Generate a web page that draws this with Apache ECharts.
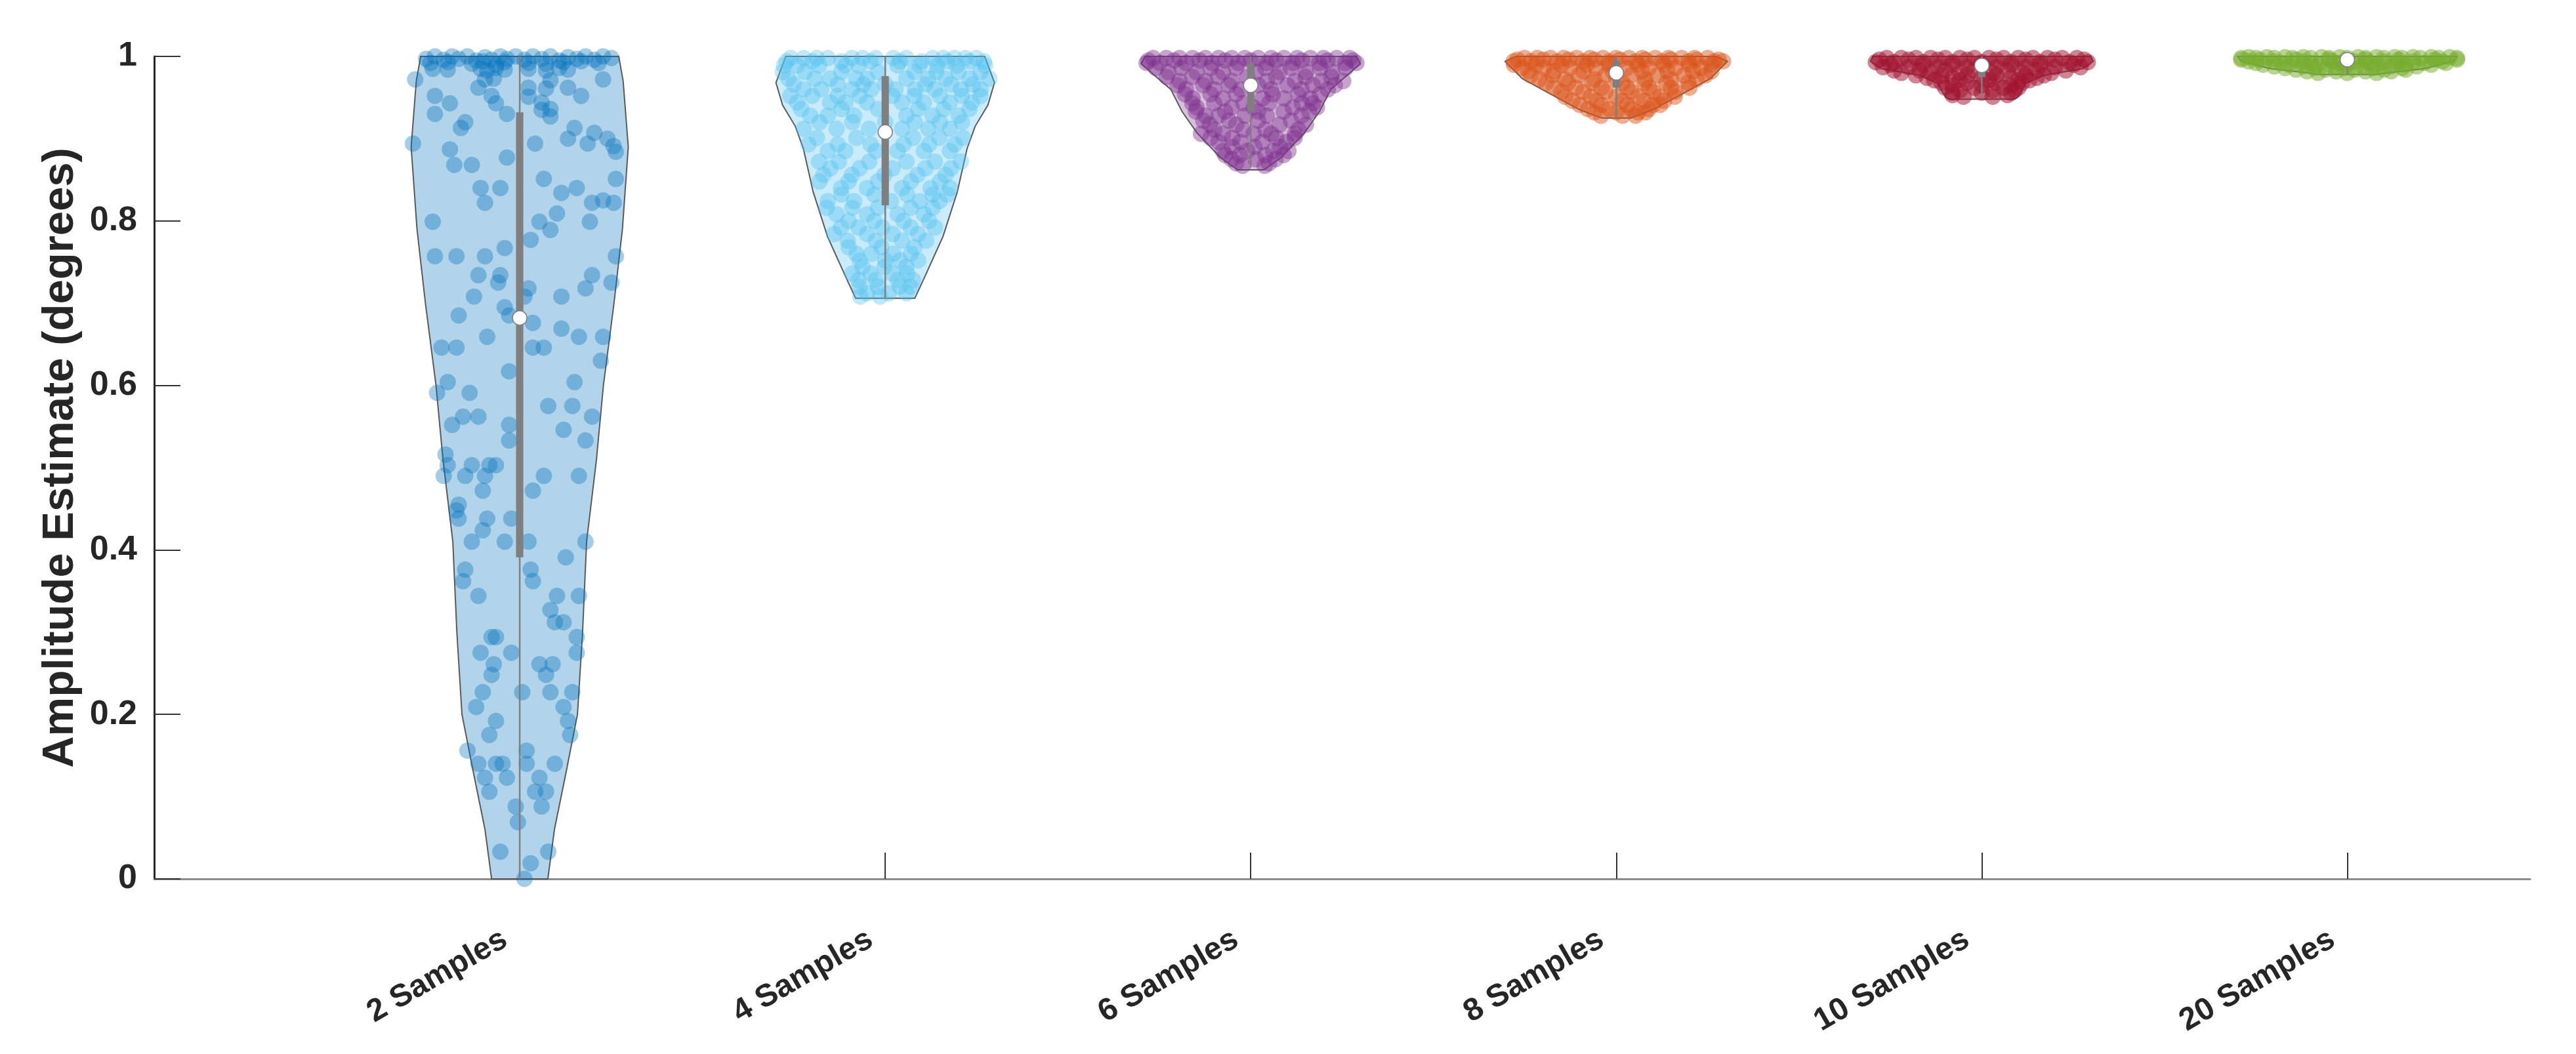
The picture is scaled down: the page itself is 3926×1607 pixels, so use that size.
<!DOCTYPE html>
<html>
<head>
<meta charset="utf-8">
<script src="https://cdn.jsdelivr.net/npm/echarts@6/dist/echarts.min.js"></script>
<style>html,body{margin:0;padding:0;background:#fff;}#c{width:3926px;height:1607px;}</style>
</head>
<body>
<div id="c"></div>
<script>
const categories = ['2 Samples','4 Samples','6 Samples','8 Samples','10 Samples','20 Samples'];
const colors = ['#0072BD','#4DBEEE','#7E2F8E','#D95319','#A2142F','#77AC30'];
const yTicks = [0,0.2,0.4,0.6,0.8,1];

// summary stats per group
const whiskerLow = [0, 0.706, 0.865, 0.925, 0.950, 0.978];
const q1 = [0.391, 0.819, 0.933, 0.962, 0.975, 0.990];
const medians = [0.682, 0.908, 0.965, 0.980, 0.989, 0.996];
const q3 = [0.932, 0.976, 0.990, 0.995, 0.997, 0.999];
const whiskerHigh = [1, 1, 1, 1, 1, 1];

// violin outlines: [value, half width in category units]
const shape1 = [[0,0.077],[0.06,0.095],[0.13,0.127],[0.20,0.158],[0.30,0.172],[0.41,0.183],[0.51,0.21],[0.60,0.229],[0.70,0.258],[0.79,0.281],[0.89,0.297],[0.97,0.283],[1.0,0.271]];
const shape2 = [[0.706,0.081],[0.728,0.104],[0.781,0.158],[0.835,0.197],[0.888,0.224],[0.915,0.246],[0.941,0.281],[0.968,0.299],[1.0,0.272]];
const shape3 = [[0.862,0.036],[0.877,0.083],[0.907,0.147],[0.933,0.188],[0.960,0.219],[0.991,0.30],[1.0,0.289]];
const shape4 = [[0.925,0.04],[0.935,0.099],[0.954,0.179],[0.973,0.257],[0.994,0.304],[1.0,0.274]];
const shape5 = [[0.948,0.09],[0.951,0.10],[0.967,0.12],[0.977,0.17],[0.985,0.275],[0.994,0.305],[1.0,0.298]];
const shape6 = [[0.978,0.08],[0.980,0.11],[0.985,0.21],[0.994,0.29],[1.0,0.30]];

// jittered points: [horizontal offset (category units), value]
const pts1 = [
[-0.256,0.997],[-0.232,1.0],[-0.208,0.996],[-0.185,1.0],[-0.167,0.997],[-0.143,1.0],[-0.119,0.995],[-0.095,0.999],[-0.077,0.996],[-0.053,1.0],[-0.035,0.997],[-0.011,1.0],[0.013,0.996],[0.036,1.0],[0.060,0.997],[0.084,1.0],[0.108,0.995],[0.132,0.999],[0.156,0.997],[0.180,1.0],[0.204,0.996],[0.228,1.0],[0.251,0.998],
[-0.244,0.992],[-0.196,0.993],[-0.131,0.991],[-0.101,0.994],[-0.065,0.990],[-0.041,0.993],[0.024,0.992],[0.072,0.991],[0.120,0.993],[0.168,0.994],[0.216,0.992],
[-0.238,0.985],[-0.197,0.984],[-0.107,0.985],[-0.089,0.983],[-0.065,0.986],[-0.041,0.984],[0.024,0.985],[0.072,0.983],[0.108,0.986],[0.132,0.984],
[-0.286,0.972],[-0.095,0.972],[-0.071,0.973],[0.084,0.971],[0.228,0.972],
[-0.113,0.962],[0.024,0.962],[0.072,0.961],[0.132,0.962],
[-0.232,0.952],[-0.077,0.952],[0.024,0.951],[0.168,0.952],
[-0.191,0.943],[-0.065,0.943],[0.060,0.944],
[0.060,0.935],[0.084,0.936],[-0.232,0.930],[-0.035,0.930],[0.084,0.927],
[-0.149,0.920],[-0.161,0.913],[0.150,0.913],[0.204,0.907],[0.132,0.900],[0.240,0.900],
[-0.292,0.894],[0.042,0.894],[0.186,0.894],[0.257,0.891],[-0.191,0.887],[0.263,0.884],
[-0.035,0.877],[-0.179,0.868],[-0.131,0.868],[0.066,0.851],[0.263,0.851],
[-0.107,0.840],[-0.053,0.840],[0.156,0.840],[0.114,0.834],[0.228,0.825],
[-0.095,0.822],[0.198,0.822],[0.257,0.822],[0.102,0.809],
[-0.238,0.799],[0.054,0.799],[0.192,0.799],[0.084,0.789],[0.030,0.777],[-0.041,0.767],
[-0.232,0.757],[-0.173,0.757],[-0.095,0.757],[0.263,0.757],
[-0.113,0.734],[-0.053,0.734],[0.198,0.734],[-0.059,0.725],[0.251,0.725],
[0.024,0.718],[0.180,0.718],[-0.125,0.708],[0.114,0.708],[0.013,0.708],
[-0.041,0.695],[-0.167,0.685],[-0.029,0.685],[0.036,0.676],[0.114,0.669],
[-0.089,0.659],[0.162,0.659],[0.228,0.659],
[-0.214,0.646],[-0.173,0.646],[0.036,0.646],[0.066,0.646],
[0.222,0.630],[-0.029,0.617],[0.150,0.604],[-0.197,0.604],
[-0.137,0.591],[-0.226,0.591],[0.078,0.575],[0.144,0.575],
[-0.155,0.562],[-0.113,0.562],[0.198,0.562],[-0.185,0.552],[-0.029,0.552],
[0.120,0.546],[0.180,0.533],[-0.029,0.533],[-0.203,0.516],
[-0.197,0.503],[-0.131,0.503],[-0.083,0.503],[-0.065,0.503],
[-0.208,0.490],[-0.149,0.490],[-0.095,0.490],[0.066,0.490],[0.162,0.490],
[-0.101,0.472],[0.036,0.472],[-0.167,0.455],[-0.173,0.448],
[-0.167,0.438],[-0.089,0.438],[-0.023,0.438],[-0.101,0.424],
[-0.131,0.410],[-0.041,0.410],[0.024,0.410],[0.180,0.410],[0.126,0.391],
[-0.149,0.376],[0.030,0.376],[-0.155,0.362],[0.036,0.362],
[-0.113,0.344],[0.102,0.344],[0.162,0.344],[0.084,0.327],[0.096,0.312],[0.120,0.312],
[-0.077,0.294],[-0.065,0.294],[0.156,0.294],[-0.107,0.275],[-0.023,0.275],[0.156,0.275],
[-0.071,0.261],[0.054,0.261],[0.090,0.261],[-0.077,0.248],[0.072,0.248],
[-0.101,0.227],[0.007,0.227],[0.084,0.227],[0.144,0.227],[-0.119,0.209],[0.120,0.209],
[-0.065,0.192],[0.132,0.192],[-0.083,0.175],[0.138,0.175],[-0.143,0.156],[0.019,0.156],
[-0.113,0.140],[-0.065,0.140],[-0.047,0.140],[0.019,0.140],[0.096,0.140],
[-0.095,0.123],[-0.035,0.123],[0.054,0.123],[-0.083,0.106],[0.042,0.106],[0.072,0.106],
[-0.011,0.088],[0.060,0.088],[-0.005,0.069],[-0.053,0.033],[0.078,0.033],[0.030,0.019],[0.013,0.0]
];
const pts2 = [
[-0.259,0.998],[-0.223,0.998],[-0.187,0.998],[-0.157,0.998],[-0.091,0.998],[-0.062,0.998],[-0.026,0.998],[0.022,0.998],[0.058,0.998],[0.130,0.998],[0.159,0.998],[0.189,0.998],[0.219,0.998],[0.249,0.998],
[-0.27,0.994],[-0.20,0.994],[-0.12,0.994],[-0.04,0.994],[0.04,0.994],[0.10,0.994],[0.17,0.994],[0.23,0.994],[0.27,0.994],
[-0.277,0.989],[-0.241,0.989],[-0.181,0.989],[-0.109,0.989],[-0.073,0.989],[0.034,0.989],[0.094,0.989],[0.142,0.989],[0.195,0.989],[0.273,0.989],
[-0.28,0.981],[-0.22,0.981],[-0.12,0.981],[-0.02,0.981],[0.08,0.981],[0.14,0.981],[0.20,0.981],[0.26,0.981],
[-0.265,0.973],[-0.193,0.973],[-0.151,0.973],[-0.079,0.973],[-0.050,0.973],[0.058,0.973],[0.118,0.973],[0.165,0.973],[0.231,0.973],[0.285,0.973],
[-0.25,0.966],[-0.13,0.966],[-0.06,0.966],[0.0,0.966],[0.11,0.966],[0.18,0.966],[0.24,0.966],
[-0.223,0.960],[-0.175,0.960],[-0.091,0.960],[-0.038,0.960],[0.028,0.960],[0.082,0.960],[0.136,0.960],[0.207,0.960],[0.261,0.960],
[-0.26,0.952],[-0.20,0.952],[-0.13,0.952],[-0.07,0.952],[0.02,0.952],[0.08,0.952],[0.15,0.952],[0.21,0.952],[0.26,0.952],
[-0.241,0.944],[-0.151,0.944],[-0.109,0.944],[-0.050,0.944],[0.046,0.944],[0.106,0.944],[0.177,0.944],[0.237,0.944],
[-0.23,0.936],[-0.12,0.936],[-0.02,0.936],[0.09,0.936],[0.16,0.936],[0.23,0.936],
[-0.205,0.928],[-0.157,0.928],[-0.085,0.928],[0.058,0.928],[0.130,0.928],[0.201,0.928],
[-0.18,0.920],[-0.09,0.920],[0.0,0.920],[0.08,0.920],[0.15,0.920],[0.21,0.920],
[-0.223,0.912],[-0.133,0.912],[-0.044,0.912],[0.046,0.912],[0.118,0.912],[0.177,0.912],
[-0.187,0.901],[-0.079,0.901],[0.076,0.901],[0.148,0.901],[0.213,0.901],
[-0.21,0.893],[-0.13,0.893],[-0.04,0.893],[0.05,0.893],[0.12,0.893],[0.19,0.893],
[-0.157,0.885],[-0.109,0.885],[-0.026,0.885],[0.034,0.885],[0.106,0.885],[0.177,0.885],
[-0.181,0.872],[-0.127,0.872],[-0.044,0.872],[0.058,0.872],[0.136,0.872],[0.207,0.872],
[-0.15,0.864],[-0.07,0.864],[0.02,0.864],[0.11,0.864],[0.18,0.864],
[-0.169,0.856],[-0.091,0.856],[-0.002,0.856],[0.088,0.856],[0.165,0.856],
[-0.18,0.848],[-0.10,0.848],[-0.02,0.848],[0.07,0.848],[0.15,0.848],
[-0.121,0.840],[-0.050,0.840],[0.046,0.840],[0.124,0.840],[0.177,0.840],
[-0.12,0.832],[-0.03,0.832],[0.06,0.832],[0.13,0.832],[0.17,0.832],
[-0.157,0.824],[-0.085,0.824],[0.016,0.824],[0.094,0.824],[0.148,0.824],
[-0.16,0.816],[-0.09,0.816],[-0.02,0.816],[0.07,0.816],[0.13,0.816],
[-0.133,0.808],[-0.050,0.808],[0.034,0.808],[0.106,0.808],
[-0.10,0.800],[-0.03,0.800],[0.05,0.800],[0.12,0.800],
[-0.121,0.792],[-0.073,0.792],[-0.008,0.792],[0.070,0.792],[0.136,0.792],
[-0.14,0.784],[-0.05,0.784],[0.02,0.784],[0.09,0.784],
[-0.103,0.776],[-0.026,0.776],[0.046,0.776],[0.112,0.776],
[-0.10,0.768],[-0.01,0.768],[0.08,0.768],
[-0.079,0.760],[-0.038,0.760],[0.022,0.760],[0.070,0.760],
[-0.07,0.752],[0.0,0.752],[0.04,0.752],[0.09,0.752],
[-0.062,0.744],[-0.002,0.744],[0.058,0.744],
[-0.09,0.736],[-0.04,0.736],[0.02,0.736],[0.06,0.736],
[-0.073,0.728],[-0.026,0.728],[0.034,0.728],[0.076,0.728],
[-0.07,0.720],[-0.02,0.720],[0.04,0.720],[0.07,0.720],
[-0.050,0.712],[0.010,0.712],[0.058,0.712],[-0.068,0.708],[-0.014,0.708]
];
const pts3 = [
[-0.267,0.998],[-0.231,0.998],[-0.195,0.998],[-0.159,0.998],[-0.124,0.998],[-0.088,0.998],[-0.052,0.998],[-0.016,0.998],[0.020,0.998],[0.056,0.998],[0.091,0.998],[0.127,0.998],[0.163,0.998],[0.199,0.998],[0.235,0.998],[0.271,0.998],
[-0.28,0.995],[-0.21,0.995],[-0.14,0.995],[-0.07,0.995],[0.0,0.995],[0.07,0.995],[0.14,0.995],[0.21,0.995],[0.28,0.995],
[-0.285,0.992],[-0.249,0.992],[-0.177,0.992],[-0.106,0.992],[-0.034,0.992],[0.044,0.992],[0.115,0.992],[0.187,0.992],[0.259,0.992],[0.289,0.992],
[-0.26,0.986],[-0.19,0.986],[-0.11,0.986],[-0.04,0.986],[0.04,0.986],[0.11,0.986],[0.19,0.986],[0.26,0.986],
[-0.225,0.981],[-0.148,0.981],[-0.076,0.981],[0.014,0.981],[0.079,0.981],[0.151,0.981],[0.223,0.981],
[-0.23,0.975],[-0.16,0.975],[-0.09,0.975],[-0.01,0.975],[0.07,0.975],[0.15,0.975],[0.22,0.975],
[-0.195,0.970],[-0.124,0.970],[-0.052,0.970],[0.044,0.970],[0.121,0.970],[0.193,0.970],[0.253,0.970],
[-0.20,0.965],[-0.13,0.965],[-0.06,0.965],[0.02,0.965],[0.10,0.965],[0.17,0.965],[0.23,0.965],
[-0.177,0.960],[-0.100,0.960],[-0.028,0.960],[0.056,0.960],[0.139,0.960],[0.211,0.960],
[-0.18,0.954],[-0.11,0.954],[-0.04,0.954],[0.06,0.954],[0.13,0.954],[0.19,0.954],
[-0.159,0.949],[-0.076,0.949],[0.032,0.949],[0.091,0.949],[0.163,0.949],
[-0.16,0.943],[-0.10,0.943],[-0.02,0.943],[0.05,0.943],[0.14,0.943],[0.17,0.943],
[-0.148,0.938],[-0.052,0.938],[0.008,0.938],[0.115,0.938],[0.181,0.938],
[-0.15,0.933],[-0.07,0.933],[0.02,0.933],[0.09,0.933],[0.16,0.933],
[-0.124,0.928],[-0.088,0.928],[-0.016,0.928],[0.044,0.928],[0.139,0.928],
[-0.13,0.922],[-0.06,0.922],[0.02,0.922],[0.11,0.922],
[-0.112,0.917],[-0.040,0.917],[0.079,0.917],[0.151,0.917],
[-0.10,0.911],[-0.02,0.911],[0.04,0.911],[0.13,0.911],
[-0.136,0.906],[-0.076,0.906],[0.008,0.906],[0.056,0.906],[0.121,0.906],
[-0.11,0.901],[-0.05,0.901],[0.07,0.901],[0.12,0.901],
[-0.088,0.896],[-0.028,0.896],[0.032,0.896],[0.097,0.896],
[-0.05,0.890],[0.01,0.890],[0.08,0.890],
[-0.076,0.885],[-0.010,0.885],[0.062,0.885],[0.103,0.885],
[-0.07,0.880],[-0.03,0.880],[0.04,0.880],[0.09,0.880],
[-0.052,0.875],[0.014,0.875],[0.068,0.875],
[-0.04,0.870],[0.05,0.870],
[-0.022,0.867],[0.038,0.867]
];
const pts4 = [
[-0.251,0.998],[-0.216,0.998],[-0.180,0.998],[-0.144,0.998],[-0.108,0.998],[-0.072,0.998],[-0.036,0.998],[-0.001,0.998],[0.035,0.998],[0.071,0.998],[0.107,0.998],[0.143,0.998],[0.179,0.998],[0.214,0.998],[0.250,0.998],
[-0.27,0.996],[-0.20,0.996],[-0.13,0.996],[-0.06,0.996],[0.01,0.996],[0.08,0.996],[0.15,0.996],[0.22,0.996],[0.28,0.996],
[-0.281,0.994],[-0.234,0.994],[-0.162,0.994],[-0.090,0.994],[-0.019,0.994],[0.053,0.994],[0.125,0.994],[0.197,0.994],[0.268,0.994],[0.292,0.994],
[-0.28,0.990],[-0.22,0.990],[-0.15,0.990],[-0.08,0.990],[-0.02,0.990],[0.06,0.990],[0.13,0.990],[0.20,0.990],[0.26,0.990],
[-0.257,0.986],[-0.198,0.986],[-0.126,0.986],[-0.054,0.986],[0.029,0.986],[0.089,0.986],[0.161,0.986],[0.232,0.986],
[-0.24,0.982],[-0.17,0.982],[-0.09,0.982],[-0.01,0.982],[0.07,0.982],[0.14,0.982],[0.21,0.982],[0.26,0.982],
[-0.234,0.977],[-0.174,0.977],[-0.102,0.977],[-0.030,0.977],[0.041,0.977],[0.113,0.977],[0.185,0.977],[0.244,0.977],
[-0.21,0.972],[-0.14,0.972],[-0.06,0.972],[0.0,0.972],[0.08,0.972],[0.15,0.972],[0.22,0.972],
[-0.192,0.968],[-0.132,0.968],[-0.066,0.968],[0.017,0.968],[0.077,0.968],[0.137,0.968],[0.197,0.968],
[-0.17,0.962],[-0.11,0.962],[-0.04,0.962],[0.03,0.962],[0.09,0.962],[0.15,0.962],[0.20,0.962],
[-0.150,0.957],[-0.090,0.957],[-0.030,0.957],[0.041,0.957],[0.101,0.957],[0.161,0.957],
[-0.14,0.951],[-0.07,0.951],[0.0,0.951],[0.06,0.951],[0.12,0.951],[0.16,0.951],
[-0.120,0.946],[-0.054,0.946],[0.017,0.946],[0.077,0.946],[0.131,0.946],
[-0.10,0.941],[-0.04,0.941],[0.03,0.941],[0.10,0.941],[0.12,0.941],
[-0.078,0.936],[-0.019,0.936],[0.041,0.936],[0.089,0.936],
[-0.06,0.932],[0.0,0.932],[0.06,0.932],[0.08,0.932],
[-0.042,0.928],[0.017,0.928],[0.053,0.928]
];
const pts5 = [
[-0.26,0.998],[-0.22,0.998],[-0.18,0.998],[-0.14,0.998],[-0.10,0.998],[-0.06,0.998],[-0.02,0.998],[0.02,0.998],[0.06,0.998],[0.10,0.998],[0.14,0.998],[0.18,0.998],[0.22,0.998],[0.26,0.998],
[-0.28,0.996],[-0.20,0.996],[-0.12,0.996],[-0.04,0.996],[0.04,0.996],[0.12,0.996],[0.20,0.996],[0.28,0.996],
[-0.29,0.993],[-0.24,0.993],[-0.16,0.993],[-0.08,0.993],[0.0,0.993],[0.08,0.993],[0.16,0.993],[0.24,0.993],[0.29,0.993],
[-0.25,0.990],[-0.16,0.990],[-0.08,0.990],[0.0,0.990],[0.08,0.990],[0.16,0.990],[0.25,0.990],
[-0.27,0.987],[-0.20,0.987],[-0.12,0.987],[-0.04,0.987],[0.04,0.987],[0.12,0.987],[0.20,0.987],[0.27,0.987],
[-0.24,0.983],[-0.17,0.983],[-0.10,0.983],[-0.02,0.983],[0.07,0.983],[0.15,0.983],[0.23,0.983],
[-0.22,0.980],[-0.14,0.980],[-0.06,0.980],[0.03,0.980],[0.11,0.980],[0.19,0.980],
[-0.18,0.977],[-0.11,0.977],[-0.04,0.977],[0.04,0.977],[0.12,0.977],[0.17,0.977],
[-0.15,0.974],[-0.08,0.974],[0.0,0.974],[0.08,0.974],[0.15,0.974],
[-0.13,0.971],[-0.06,0.971],[0.02,0.971],[0.10,0.971],[0.13,0.971],
[-0.11,0.968],[-0.04,0.968],[0.04,0.968],[0.11,0.968],
[-0.08,0.965],[0.0,0.965],[0.08,0.965],
[-0.10,0.962],[-0.02,0.962],[0.06,0.962],[0.10,0.962],
[-0.06,0.959],[0.03,0.959],[0.09,0.959],
[-0.08,0.956],[0.0,0.956],[0.08,0.956],
[-0.08,0.953],[0.07,0.953],
[-0.05,0.951],[0.03,0.951]
];
const pts6 = [
[-0.27,0.999],[-0.22,0.999],[-0.17,0.999],[-0.12,0.999],[-0.07,0.999],[-0.02,0.999],[0.03,0.999],[0.08,0.999],[0.13,0.999],[0.18,0.999],[0.23,0.999],[0.28,0.999],
[-0.29,0.998],[-0.25,0.998],[-0.20,0.998],[-0.15,0.998],[-0.10,0.998],[-0.05,0.998],[0.0,0.998],[0.05,0.998],[0.10,0.998],[0.15,0.998],[0.20,0.998],[0.25,0.998],[0.30,0.998],
[-0.29,0.996],[-0.24,0.996],[-0.14,0.996],[-0.05,0.996],[0.05,0.996],[0.14,0.996],[0.24,0.996],[0.30,0.996],
[-0.27,0.994],[-0.20,0.994],[-0.12,0.994],[-0.04,0.994],[0.02,0.994],[0.10,0.994],[0.18,0.994],[0.26,0.994],
[-0.25,0.992],[-0.18,0.992],[-0.10,0.992],[-0.02,0.992],[0.06,0.992],[0.14,0.992],[0.21,0.992],[0.27,0.992],
[-0.23,0.990],[-0.16,0.990],[-0.08,0.990],[0.0,0.990],[0.08,0.990],[0.16,0.990],[0.23,0.990],
[-0.20,0.988],[-0.12,0.988],[-0.04,0.988],[0.04,0.988],[0.12,0.988],[0.19,0.988],
[-0.17,0.986],[-0.09,0.986],[-0.01,0.986],[0.07,0.986],[0.15,0.986],
[-0.14,0.984],[-0.06,0.984],[0.02,0.984],[0.10,0.984],[0.16,0.984],
[-0.11,0.982],[-0.03,0.982],[0.05,0.982],[0.12,0.982],
[-0.08,0.980],[0.0,0.980],[0.08,0.980]
];

const shapes = [shape1, shape2, shape3, shape4, shape5, shape6];
const pointSets = [pts1, pts2, pts3, pts4, pts5, pts6];
const pointAlpha = [0.45, 0.45, 0.55, 0.6, 0.65, 0.65];
const boxHalf = 0.01;

function hexToRgba(hex, a) {
  const n = parseInt(hex.slice(1), 16);
  return 'rgba(' + ((n >> 16) & 255) + ',' + ((n >> 8) & 255) + ',' + (n & 255) + ',' + a + ')';
}

const font = 'Liberation Sans, Arial, Helvetica, sans-serif';
const textColor = '#262626';

const series = [];
// violins
series.push({
  type: 'custom', z: 1,
  data: categories.map((c, i) => [i + 1, medians[i]]),
  renderItem: function (params, api) {
    const i = params.dataIndex;
    const xc = i + 1;
    const sh = shapes[i];
    const pts = [];
    for (let j = 0; j < sh.length; j++) pts.push(api.coord([xc + sh[j][1], sh[j][0]]));
    for (let j = sh.length - 1; j >= 0; j--) pts.push(api.coord([xc - sh[j][1], sh[j][0]]));
    return {
      type: 'polygon', shape: { points: pts },
      style: { fill: hexToRgba(colors[i], 0.3), stroke: '#5a5a5a', lineWidth: 2 }
    };
  }
});
// points
pointSets.forEach((set, i) => {
  series.push({
    type: 'scatter', z: 2, symbol: 'circle', symbolSize: 25,
    data: set.map(p => [i + 1 + p[0], p[1]]),
    itemStyle: { color: hexToRgba(colors[i], pointAlpha[i]), borderWidth: 0 },
    silent: true
  });
});
// whiskers
series.push({
  type: 'custom', z: 3,
  data: categories.map((c, i) => [i + 1, whiskerLow[i], whiskerHigh[i]]),
  renderItem: function (params, api) {
    const x = api.value(0);
    const a = api.coord([x, api.value(1)]);
    const b = api.coord([x, api.value(2)]);
    return { type: 'line', shape: { x1: a[0], y1: a[1], x2: b[0], y2: b[1] },
      style: { stroke: '#7f7f7f', lineWidth: 2.5 } };
  }
});
// boxes
series.push({
  type: 'custom', z: 4,
  data: categories.map((c, i) => [i + 1, q1[i], q3[i]]),
  renderItem: function (params, api) {
    const x = api.value(0);
    const tl = api.coord([x - boxHalf, api.value(2)]);
    const br = api.coord([x + boxHalf, api.value(1)]);
    return { type: 'rect', shape: { x: tl[0], y: tl[1], width: br[0] - tl[0], height: br[1] - tl[1] },
      style: { fill: '#7f7f7f' } };
  }
});
// medians
series.push({
  type: 'scatter', z: 5, symbol: 'circle', symbolSize: 22,
  data: categories.map((c, i) => [i + 1, medians[i]]),
  itemStyle: { color: '#ffffff', borderColor: '#7f7f7f', borderWidth: 1.5, opacity: 1 }
});

const chart = echarts.init(document.getElementById('c'), null, { renderer: 'canvas' });
chart.setOption({
  animation: false,
  backgroundColor: '#ffffff',
  grid: { left: 235, right: 70, top: 86, bottom: 267 },
  xAxis: {
    type: 'value', min: 0, max: 6.5,
    axisLine: { show: true, onZero: false, lineStyle: { color: '#8c8c8c', width: 3 } },
    axisTick: { show: true, inside: true, length: 40, customValues: [1, 2, 3, 4, 5, 6], lineStyle: { color: '#333333', width: 2 } },
    axisLabel: {
      customValues: [1, 2, 3, 4, 5, 6],
      formatter: function (v) { return categories[Math.round(v) - 1] || ''; },
      rotate: 30, margin: 76, padding: [0, 26, 0, 0], fontSize: 48, fontWeight: 'bold', color: textColor, fontFamily: font
    },
    splitLine: { show: false }
  },
  yAxis: {
    type: 'value', min: 0, max: 1, interval: 0.2,
    name: 'Amplitude Estimate (degrees)', nameLocation: 'middle', nameGap: 104,
    nameTextStyle: { fontSize: 67, fontWeight: 'bold', color: textColor, fontFamily: font, padding: [0, 0, 0, 30] },
    axisLine: { show: true, lineStyle: { color: '#262626', width: 3 } },
    axisTick: { show: true, inside: true, length: 40, lineStyle: { color: '#333333', width: 2 } },
    axisLabel: {
      margin: 26, fontSize: 52, fontWeight: 'bold', color: textColor, fontFamily: font,
      formatter: function (v) { const t = yTicks.find(y => Math.abs(y - v) < 1e-9); return t === undefined ? '' : String(t); }
    },
    splitLine: { show: false }
  },
  series: series
});
</script>
</body>
</html>
